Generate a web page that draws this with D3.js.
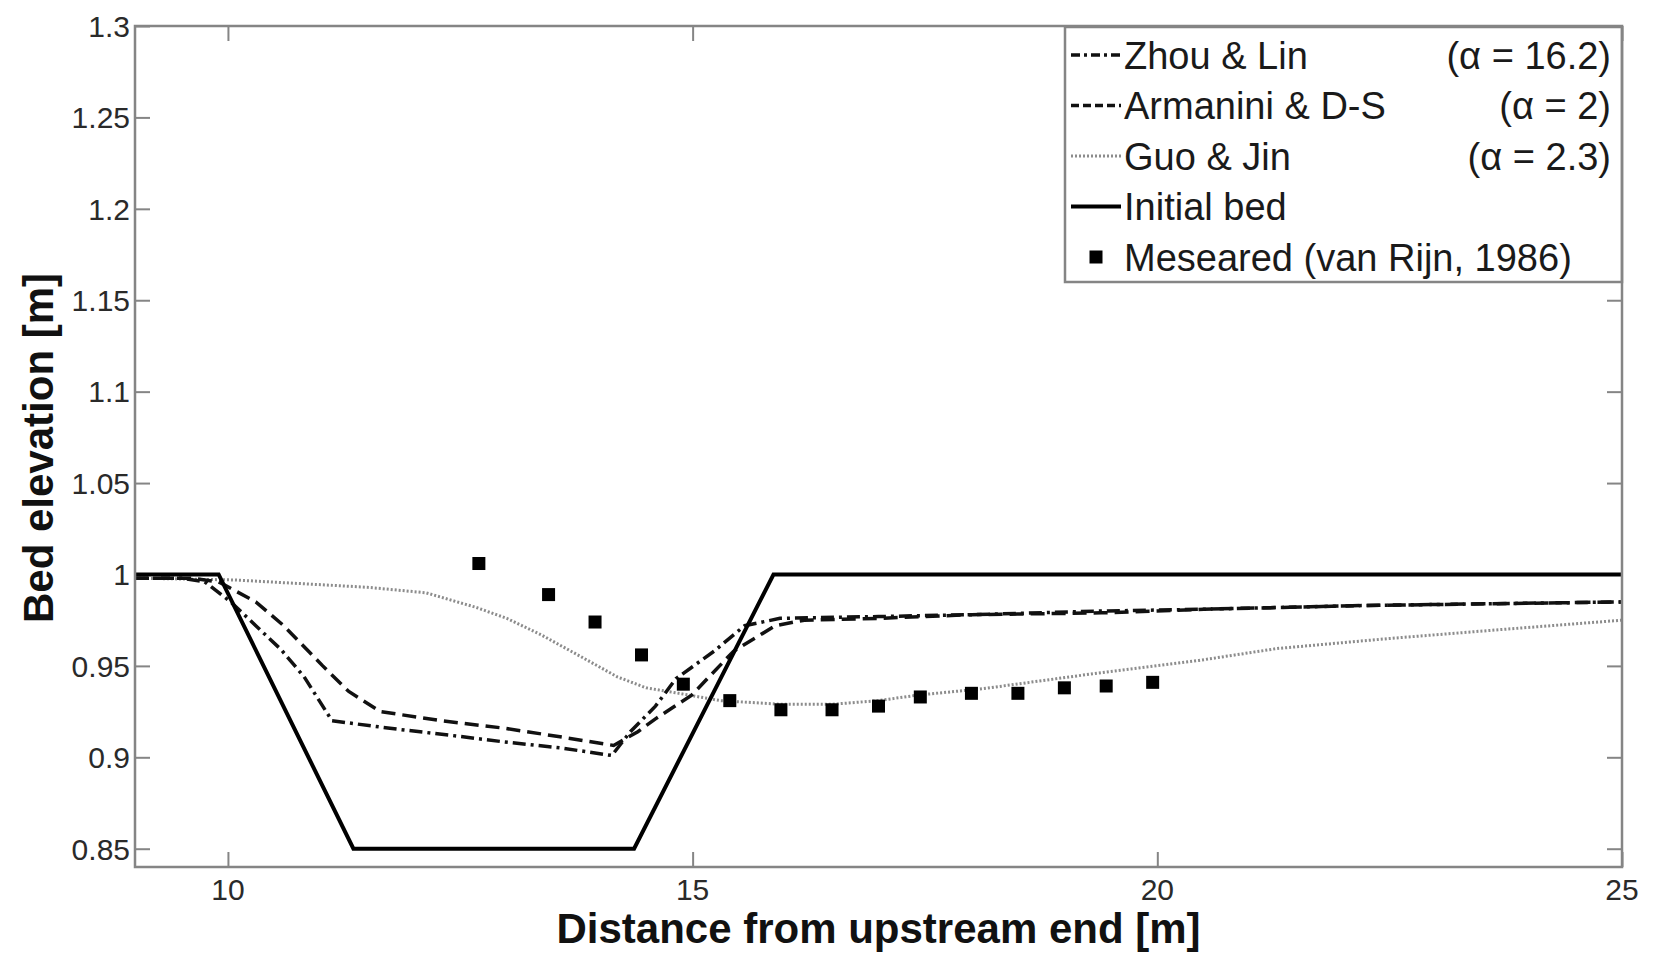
<!DOCTYPE html>
<html>
<head>
<meta charset="utf-8">
<title>Bed elevation</title>
<script src="https://cdn.jsdelivr.net/npm/d3@7/dist/d3.min.js"></script>
<style>
    html, body { margin: 0; padding: 0; background: #fff; }
    svg { display: block; font-family: "Liberation Sans", Arial, sans-serif; }
    .frame { fill: none; stroke: #858585; stroke-width: 2.5; }
    .tick-label { font-size: 30px; fill: #2a2a2a; }
    .axis-title { font-size: 42px; font-weight: bold; fill: #111; }
    .legend-text { font-size: 38px; fill: #1a1a1a; }
</style>
</head>
<body>
<svg id="chart" width="1658" height="956"></svg>
<script>
// Bed elevation profiles
const xTicks = [10, 15, 20, 25];
const yTicks = [0.85, 0.9, 0.95, 1, 1.05, 1.1, 1.15, 1.2, 1.25, 1.3];

const initialBed = [[9, 1], [9.9, 1], [11.35, 0.85], [14.37, 0.85], [15.87, 1], [25, 1]];

const zhouLin = [
    [9, 0.998], [9.5, 0.998], [9.75, 0.996], [10.03, 0.985], [10.3, 0.972], [10.57, 0.959],
    [10.82, 0.944], [11.12, 0.920], [11.72, 0.916], [12.4, 0.912], [12.96, 0.9085],
    [13.6, 0.905], [14.13, 0.901], [14.33, 0.914], [14.6, 0.928], [14.82, 0.943],
    [15.23, 0.958], [15.56, 0.972], [15.94, 0.976], [17, 0.977], [18, 0.978],
    [19.4, 0.980], [20.5, 0.981], [22.2, 0.983], [25, 0.985]
];

const armanini = [
    [9, 0.998], [9.6, 0.998], [9.9, 0.996], [10.3, 0.985], [10.6, 0.972], [11.02, 0.950],
    [11.3, 0.936], [11.64, 0.925], [12.3, 0.920], [12.96, 0.916], [13.6, 0.911],
    [14.15, 0.9065], [14.41, 0.914], [14.6, 0.921], [14.99, 0.934], [15.44, 0.958],
    [15.89, 0.972], [16.2, 0.975], [17, 0.976], [18, 0.978], [19.4, 0.979],
    [20.5, 0.981], [22.2, 0.983], [25, 0.985]
];

const guoJin = [
    [9, 0.998], [10.07, 0.997], [11.5, 0.993], [12.13, 0.990], [12.67, 0.982], [13.0, 0.976],
    [13.37, 0.967], [13.8, 0.955], [14.19, 0.944], [14.5, 0.938], [14.85, 0.935],
    [15.3, 0.931], [15.94, 0.929], [16.5, 0.929], [17.0, 0.931], [17.42, 0.934],
    [18.12, 0.9375], [19.35, 0.946], [20.45, 0.953], [21.29, 0.9595], [22.5, 0.965],
    [23.73, 0.970], [25, 0.975]
];

const measured = [
    [12.7, 1.006], [13.45, 0.989], [13.95, 0.974], [14.45, 0.956], [14.9, 0.940],
    [15.4, 0.931], [15.95, 0.926], [16.5, 0.926], [17.0, 0.928], [17.45, 0.933],
    [18.0, 0.935], [18.5, 0.935], [19.0, 0.938], [19.45, 0.939], [19.95, 0.941]
];

const legendLabels = ['Zhou & Lin', 'Armanini & D-S', 'Guo & Jin', 'Initial bed', 'Meseared (van Rijn, 1986)'];
const legendAlphas = ['(\u03b1 = 16.2)', '(\u03b1 = 2)', '(\u03b1 = 2.3)', '', ''];

(function() {
    'use strict';

    const svg = d3.select('#chart');
    const plot = { left: 135, right: 1622, top: 26, bottom: 867 };

    const x = d3.scaleLinear().domain([9, 25]).range([plot.left, plot.right]);
    const y = d3.scaleLinear().domain([0.84, 1.3]).range([plot.bottom, plot.top]);

    const tickLen = 15;
    const fmt = d => String(+d.toFixed(2));

    // line styles, one per series
    const styles = {
        zhou:  { stroke: '#111', width: 3.5, dash: '13,5,3,5' },
        arm:   { stroke: '#111', width: 3.5, dash: '14,7' },
        guo:   { stroke: '#8c8c8c', width: 3, dash: '2,2' },
        init:  { stroke: '#000', width: 4, dash: null }
    };

    const line = d3.line().x(d => x(d[0])).y(d => y(d[1]));

    // Axes: ticks pointing inward, mirrored on the opposite sides
    const axisG = svg.append('g');

    axisG.append('g')
        .attr('transform', `translate(0,${plot.bottom})`)
        .call(d3.axisTop(x).tickValues(xTicks).tickSize(tickLen).tickFormat(''))
        .call(g => g.select('.domain').remove());
    axisG.append('g')
        .attr('transform', `translate(0,${plot.top})`)
        .call(d3.axisBottom(x).tickValues(xTicks).tickSize(tickLen).tickFormat(''))
        .call(g => g.select('.domain').remove());
    axisG.append('g')
        .attr('transform', `translate(${plot.left},0)`)
        .call(d3.axisRight(y).tickValues(yTicks).tickSize(tickLen).tickFormat(''))
        .call(g => g.select('.domain').remove());
    axisG.append('g')
        .attr('transform', `translate(${plot.right},0)`)
        .call(d3.axisLeft(y).tickValues(yTicks).tickSize(tickLen).tickFormat(''))
        .call(g => g.select('.domain').remove());

    axisG.selectAll('.tick line').attr('stroke', '#858585').attr('stroke-width', 2);

    // Tick labels
    svg.append('g').selectAll('text')
        .data(xTicks)
        .join('text')
        .attr('class', 'tick-label')
        .attr('x', d => x(d))
        .attr('y', 900)
        .attr('text-anchor', 'middle')
        .text(d => d);

    svg.append('g').selectAll('text')
        .data(yTicks)
        .join('text')
        .attr('class', 'tick-label')
        .attr('x', plot.left - 5)
        .attr('y', d => y(d))
        .attr('dy', '0.36em')
        .attr('text-anchor', 'end')
        .text(fmt);

    // Axis titles
    svg.append('text')
        .attr('class', 'axis-title')
        .attr('x', (plot.left + plot.right) / 2)
        .attr('y', 943)
        .attr('text-anchor', 'middle')
        .text('Distance from upstream end [m]');

    svg.append('text')
        .attr('class', 'axis-title')
        .attr('transform', 'translate(53,448) rotate(-90)')
        .attr('text-anchor', 'middle')
        .text('Bed elevation [m]');

    // Curves
    const series = [
        { data: guoJin, s: styles.guo },
        { data: armanini, s: styles.arm },
        { data: zhouLin, s: styles.zhou },
        { data: initialBed, s: styles.init }
    ];

    const curveG = svg.append('g');
    series.forEach(d => {
        curveG.append('path')
            .attr('d', line(d.data))
            .attr('fill', 'none')
            .attr('stroke', d.s.stroke)
            .attr('stroke-width', d.s.width)
            .attr('stroke-dasharray', d.s.dash)
            .attr('stroke-linejoin', 'miter');
    });

    // Measured points
    const sq = 13;
    svg.append('g').selectAll('rect')
        .data(measured)
        .join('rect')
        .attr('x', d => x(d[0]) - sq / 2)
        .attr('y', d => y(d[1]) - sq / 2)
        .attr('width', sq)
        .attr('height', sq)
        .attr('fill', '#000');

    // Legend
    const leg = svg.append('g');
    leg.append('rect')
        .attr('x', 1065).attr('y', plot.top + 1)
        .attr('width', plot.right - 1065).attr('height', 255)
        .attr('fill', '#fff')
        .attr('stroke', '#858585')
        .attr('stroke-width', 2.5);

    const legendStyles = [styles.zhou, styles.arm, styles.guo, styles.init, null];
    const legendDash = ['9,4,3,4', '8,4', '2,2', null];

    legendLabels.forEach((label, i) => {
        const cy = 55 + i * 50.5;
        const st = legendStyles[i];
        if (st) {
            leg.append('line')
                .attr('x1', 1071).attr('x2', 1121)
                .attr('y1', cy).attr('y2', cy)
                .attr('stroke', st.stroke)
                .attr('stroke-width', st.width)
                .attr('stroke-dasharray', legendDash[i]);
        } else {
            leg.append('rect')
                .attr('x', 1096 - sq / 2).attr('y', cy - sq / 2)
                .attr('width', sq).attr('height', sq)
                .attr('fill', '#000');
        }
        leg.append('text')
            .attr('class', 'legend-text')
            .attr('x', 1124)
            .attr('y', cy)
            .attr('dy', '0.36em')
            .text(label);
        if (legendAlphas[i]) {
            leg.append('text')
                .attr('class', 'legend-text')
                .attr('x', 1611)
                .attr('y', cy)
                .attr('dy', '0.36em')
                .attr('text-anchor', 'end')
                .text(legendAlphas[i]);
        }
    });

    // Plot frame on top
    svg.append('rect')
        .attr('class', 'frame')
        .attr('x', plot.left).attr('y', plot.top)
        .attr('width', plot.right - plot.left)
        .attr('height', plot.bottom - plot.top);
})();
</script>
</body>
</html>
